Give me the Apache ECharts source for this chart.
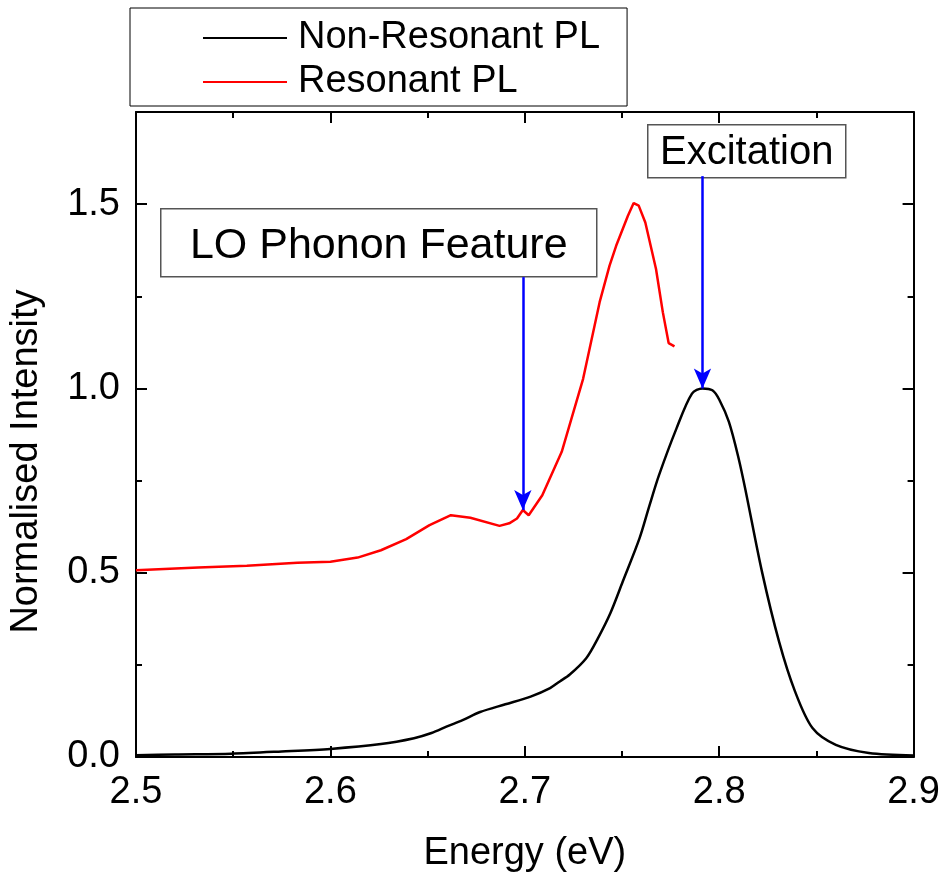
<!DOCTYPE html>
<html>
<head>
<meta charset="utf-8">
<script src="https://cdn.jsdelivr.net/npm/echarts@6/dist/echarts.min.js"></script>
<style>
  html, body { margin: 0; padding: 0; background: #fff; }
  #chart { width: 943px; height: 878px; }
</style>
</head>
<body>
<div id="chart"></div>
<script>
// 非共振 PL（黑线）
const nonResEnergy = [2.5, 2.52, 2.549, 2.575, 2.6, 2.626, 2.643, 2.652, 2.66, 2.668, 2.677, 2.69, 2.703, 2.713, 2.718, 2.723, 2.7316, 2.7376, 2.744, 2.7504, 2.759, 2.764, 2.769, 2.778, 2.786, 2.7914, 2.7965, 2.8, 2.805, 2.81, 2.8137, 2.822, 2.8308, 2.839, 2.848, 2.86, 2.877, 2.9]
const nonResIntensity = [0.005, 0.007, 0.009, 0.015, 0.022, 0.035, 0.051, 0.065, 0.083, 0.1, 0.122, 0.143, 0.164, 0.187, 0.205, 0.223, 0.268, 0.322, 0.39, 0.476, 0.593, 0.68, 0.764, 0.891, 0.986, 1.0, 0.995, 0.97, 0.909, 0.81, 0.72, 0.503, 0.313, 0.178, 0.0785, 0.033, 0.011, 0.004]

// 共振 PL（红线）
const resEnergy = [2.5, 2.532, 2.557, 2.583, 2.6, 2.614, 2.626, 2.639, 2.651, 2.662, 2.672, 2.687, 2.692, 2.696, 2.699, 2.702, 2.709, 2.719, 2.73, 2.7385, 2.7436, 2.747, 2.753, 2.756, 2.7586, 2.762, 2.7675, 2.771, 2.774, 2.777]
const resIntensity = [0.507, 0.514, 0.519, 0.527, 0.53, 0.541, 0.561, 0.591, 0.629, 0.656, 0.649, 0.627, 0.634, 0.647, 0.67, 0.656, 0.71, 0.828, 1.026, 1.234, 1.333, 1.387, 1.468, 1.503, 1.496, 1.45, 1.324, 1.207, 1.123, 1.114]

// 标注箭头 [x, 起点y, 终点y]
const loArrow = [2.699, 1.302, 0.67]
const excArrow = [2.7914, 1.576, 1.0]

const seriesNames = ['Non-Resonant PL', 'Resonant PL']
const fontFamily = '"Liberation Sans", Arial, sans-serif'

const chart = echarts.init(document.getElementById('chart'), null, { renderer: 'canvas' })

// 坐标轴公共样式
const axisCommon = {
  type: 'value',
  axisLine: { show: true, onZero: false, lineStyle: { color: '#000', width: 2 } },
  axisTick: { show: true, inside: true, length: 11, lineStyle: { color: '#000', width: 2 } },
  minorTick: { show: true, splitNumber: 2, length: 6, lineStyle: { color: '#000', width: 2 } },
  splitLine: { show: false }
}

const toPairs = (xs, ys) => xs.map((x, i) => [x, ys[i]])

function arrowLine(a) {
  return {
    silent: true,
    symbol: ['none', 'arrow'],
    symbolSize: [13, 20],
    label: { show: false },
    lineStyle: { color: '#0000ff', width: 2.5, type: 'solid' },
    emphasis: { disabled: true },
    animation: false,
    data: [[{ coord: [a[0], a[1]] }, { coord: [a[0], a[2]] }]]
  }
}

const option = {
  animation: false,
  backgroundColor: '#fff',
  textStyle: { fontFamily },
  grid: { left: 135, right: 28, top: 112, bottom: 119 },
  legend: {
    orient: 'vertical',
    left: 130,
    top: 8,
    padding: [11, 27, 5, 73],
    itemGap: 6,
    itemWidth: 84,
    itemHeight: 2,
    icon: 'rect',
    borderColor: '#000',
    borderWidth: 1,
    data: seriesNames,
    textStyle: { fontSize: 38, color: '#000', fontFamily, padding: [0, 0, 0, 6] }
  },
  xAxis: [
    Object.assign({}, axisCommon, {
      min: 2.5,
      max: 2.9,
      interval: 0.1,
      position: 'bottom',
      name: 'Energy (eV)',
      nameLocation: 'middle',
      nameGap: 78,
      nameTextStyle: { fontSize: 38, color: '#000', fontFamily },
      axisLabel: { fontSize: 38, color: '#000', margin: 17, fontFamily, formatter: v => v.toFixed(1) }
    }),
    Object.assign({}, axisCommon, {
      min: 2.5,
      max: 2.9,
      interval: 0.1,
      position: 'top',
      axisLabel: { show: false }
    })
  ],
  yAxis: [
    Object.assign({}, axisCommon, {
      min: 0,
      max: 1.75,
      interval: 0.5,
      position: 'left',
      name: 'Normalised Intensity',
      nameLocation: 'middle',
      nameGap: 90,
      nameTextStyle: { fontSize: 38, color: '#000', fontFamily, padding: [0, 54, 0, 0] },
      axisLabel: { fontSize: 38, color: '#000', margin: 16, fontFamily, showMaxLabel: false, formatter: v => v.toFixed(1) }
    }),
    Object.assign({}, axisCommon, {
      min: 0,
      max: 1.75,
      interval: 0.5,
      position: 'right',
      axisLabel: { show: false }
    })
  ],
  series: [
    {
      name: seriesNames[0],
      type: 'line',
      showSymbol: false,
      smooth: 0.3,
      color: '#000',
      lineStyle: { color: '#000', width: 2.5 },
      data: toPairs(nonResEnergy, nonResIntensity),
      markLine: arrowLine(excArrow)
    },
    {
      name: seriesNames[1],
      type: 'line',
      showSymbol: false,
      smooth: false,
      color: '#ff0000',
      lineStyle: { color: '#ff0000', width: 2.5 },
      data: toPairs(resEnergy, resIntensity),
      markLine: arrowLine(loArrow)
    }
  ],
  // 文字标注框
  graphic: [
    {
      type: 'group',
      left: 160,
      top: 208,
      children: [
        { type: 'rect', shape: { x: 0, y: 0, width: 436, height: 68 }, style: { fill: '#fff', stroke: '#555', lineWidth: 1.5 } },
        { type: 'text', x: 218, y: 37, style: { text: 'LO Phonon Feature', font: '43px ' + fontFamily, fill: '#000', align: 'center', verticalAlign: 'middle' } }
      ]
    },
    {
      type: 'group',
      left: 647,
      top: 124,
      children: [
        { type: 'rect', shape: { x: 0, y: 0, width: 198, height: 53 }, style: { fill: '#fff', stroke: '#555', lineWidth: 1.5 } },
        { type: 'text', x: 99, y: 28, style: { text: 'Excitation', font: '40px ' + fontFamily, fill: '#000', align: 'center', verticalAlign: 'middle' } }
      ]
    }
  ]
}

chart.setOption(option)
</script>
</body>
</html>
